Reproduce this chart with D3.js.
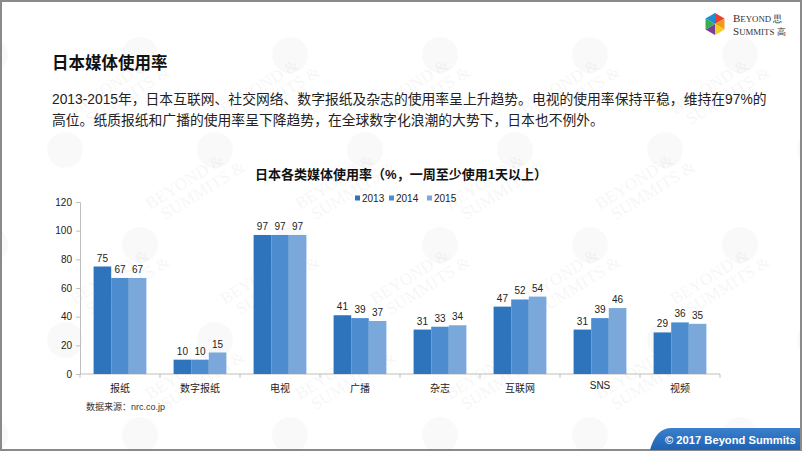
<!DOCTYPE html>
<html>
<head>
<meta charset="utf-8">
<script src="https://cdn.jsdelivr.net/npm/d3@7"></script>
<style>
  html, body { margin: 0; padding: 0; background: #fff; }
  svg { display: block; }
  text { font-family: "Liberation Sans", Arial, "Noto Sans CJK SC", sans-serif; }
</style>
</head>
<body>
<svg id="chart" width="802" height="451"></svg>
<script>
// chart data
const categories = ["报纸", "数字报纸", "电视", "广播", "杂志", "互联网", "SNS", "视频"];
const years = ["2013", "2014", "2015"];
const values2013 = [75, 10, 97, 41, 31, 47, 31, 29];
const values2014 = [67, 10, 97, 39, 33, 52, 39, 36];
const values2015 = [67, 15, 97, 37, 34, 54, 46, 35];
const yTicks = [0, 20, 40, 60, 80, 100, 120];

const pageTitle = "日本媒体使用率";
const paragraph = [
  "2013-2015年，日本互联网、社交网络、数字报纸及杂志的使用率呈上升趋势。电视的使用率保持平稳，维持在97%的",
  "高位。纸质报纸和广播的使用率呈下降趋势，在全球数字化浪潮的大势下，日本也不例外。"
];
const chartTitle = "日本各类媒体使用率（%，一周至少使用1天以上）";
const sourceNote = "数据来源：nrc.co.jp";
const footerText = "© 2017 Beyond Summits";

const seriesColors = ["#2e74bd", "#4d8dcf", "#7aa8da"];

const svg = d3.select("#chart");
const W = 802, H = 451;

// faint watermark in the background (only pieces that sit fully inside the page)
const wm = svg.append("g").attr("class", "watermark");
for (let row = -1; row < 6; row++) {
  for (let col = -1; col < 7; col++) {
    const cx = col * 150 + (row % 2 ? 75 : 0);
    const cy = row * 95 + 20;
    wm.append("circle")
      .attr("cx", cx - 10).attr("cy", cy + 35).attr("r", 18)
      .attr("fill", "#000").attr("opacity", 0.022);
    const t = wm.append("text")
      .attr("transform", `translate(${cx},${cy}) rotate(-32)`)
      .style("font-family", "'Liberation Serif', serif")
      .attr("font-size", 17)
      .attr("fill", "#000")
      .attr("opacity", 0.03);
    t.append("tspan").attr("x", 0).attr("dy", 0).text("BEYOND &");
    t.append("tspan").attr("x", 8).attr("dy", 17).text("SUMMITS &");
  }
}
wm.selectAll("text").each(function () {
  const b = this.getBoundingClientRect();
  if (b.left < 3 || b.top < 3 || b.right > W - 3 || b.bottom > H - 3) this.remove();
});

// page frame
svg.append("rect")
  .attr("x", 1).attr("y", 1).attr("width", W - 2).attr("height", H - 2)
  .attr("fill", "none").attr("stroke", "#8a8a8a").attr("stroke-width", 2);

// logo, top right
const logo = svg.append("g").attr("transform", "translate(715,24)");
const hexColors = ["#e8402e", "#f39a1e", "#f2cf1c", "#7a3f98", "#3aae4a", "#1b8fd6"];
const hexR = 11;
hexColors.forEach((c, i) => {
  const a0 = (-90 + i * 60) * Math.PI / 180;
  const a1 = (-30 + i * 60) * Math.PI / 180;
  logo.append("path")
    .attr("d", `M0,0L${hexR * Math.cos(a0)},${hexR * Math.sin(a0)}L${hexR * Math.cos(a1)},${hexR * Math.sin(a1)}Z`)
    .attr("fill", c);
});
[["BEYOND", "思", 21.5], ["SUMMITS", "高", 35]].forEach(([word, hz, yy]) => {
  const t = svg.append("text").attr("x", 733).attr("y", yy)
    .style("font-family", "'Liberation Serif', serif")
    .attr("fill", "#333");
  t.append("tspan").attr("font-size", 11).text(word[0]);
  t.append("tspan").attr("font-size", 8.8).text(word.slice(1) + " ");
  t.append("tspan").attr("font-size", 8.8).text(hz);
});

// heading + paragraph
svg.append("text")
  .attr("x", 52).attr("y", 69)
  .attr("font-size", 16.5).attr("font-weight", "bold").attr("fill", "#111")
  .text(pageTitle);

paragraph.forEach((line, i) => {
  svg.append("text")
    .attr("x", 52).attr("y", 104 + i * 21)
    .attr("font-size", 13.8).attr("fill", "#222")
    .text(line);
});

// chart title
svg.append("text")
  .attr("x", 401).attr("y", 179).attr("text-anchor", "middle")
  .attr("font-size", 13).attr("font-weight", "bold").attr("fill", "#111")
  .text(chartTitle);

// legend
const legend = svg.append("g").attr("class", "legend");
const legendX = [355, 389, 427];
years.forEach((yr, i) => {
  legend.append("rect")
    .attr("x", legendX[i]).attr("y", 195.5).attr("width", 5).attr("height", 5)
    .attr("fill", seriesColors[i]);
  legend.append("text")
    .attr("x", legendX[i] + 7).attr("y", 202)
    .attr("font-size", 10).attr("fill", "#222")
    .text(yr);
});

// scales
const x0 = d3.scaleBand().domain(categories).range([80, 720]).paddingInner(0.34).paddingOuter(0.17);
const x1 = d3.scaleBand().domain(years).range([0, x0.bandwidth()]);
const y = d3.scaleLinear().domain([0, 120]).range([374, 202]);

const seriesValues = [values2013, values2014, values2015];
const rows = categories.map((c, ci) => ({
  cat: c,
  vals: years.map((yr, yi) => ({ yr, yi, v: seriesValues[yi][ci] }))
}));

// y axis
const yAxis = svg.append("g")
  .attr("transform", "translate(80,0)")
  .call(d3.axisLeft(y).tickValues(yTicks).tickSize(4).tickPadding(4));
yAxis.select(".domain").attr("stroke", "#bfbfbf");
yAxis.selectAll(".tick line").attr("stroke", "#bfbfbf");
yAxis.selectAll(".tick text")
  .attr("font-size", 10).attr("fill", "#222");

// x axis: line with ticks at band boundaries
const xg = svg.append("g").attr("class", "x-axis");
xg.append("line")
  .attr("x1", 80).attr("x2", 720).attr("y1", y(0)).attr("y2", y(0))
  .attr("stroke", "#bfbfbf");
const step = x0.step();
d3.range(categories.length + 1).forEach(i => {
  const xx = 80 + i * step;
  xg.append("line")
    .attr("x1", xx).attr("x2", xx).attr("y1", y(0)).attr("y2", y(0) + 4)
    .attr("stroke", "#bfbfbf");
});
xg.selectAll("text.cat").data(categories).enter().append("text")
  .attr("class", "cat")
  .attr("x", d => x0(d) + x0.bandwidth() / 2)
  .attr("y", d => d === "SNS" ? 389 : 392)
  .attr("text-anchor", "middle")
  .attr("font-size", 10).attr("fill", "#222")
  .text(d => d);

// bars
const groups = svg.append("g").selectAll("g.grp").data(rows).enter().append("g")
  .attr("class", "grp")
  .attr("transform", d => `translate(${x0(d.cat)},0)`);

groups.selectAll("rect").data(d => d.vals).enter().append("rect")
  .attr("x", d => x1(d.yr))
  .attr("y", d => y(d.v))
  .attr("width", x1.bandwidth())
  .attr("height", d => y(0) - y(d.v))
  .attr("fill", d => seriesColors[d.yi]);

groups.selectAll("text").data(d => d.vals).enter().append("text")
  .attr("x", d => x1(d.yr) + x1.bandwidth() / 2)
  .attr("y", d => y(d.v) - 5)
  .attr("text-anchor", "middle")
  .attr("font-size", 10).attr("fill", "#222")
  .text(d => d.v);

// source note
svg.append("text")
  .attr("x", 86).attr("y", 410)
  .attr("font-size", 9).attr("fill", "#333")
  .text(sourceNote);

// footer tab
const grad = svg.append("defs").append("linearGradient")
  .attr("id", "footGrad").attr("x1", 0).attr("y1", 0).attr("x2", 0).attr("y2", 1);
grad.append("stop").attr("offset", "0%").attr("stop-color", "#3a80cc");
grad.append("stop").attr("offset", "100%").attr("stop-color", "#1f62b2");
svg.append("path")
  .attr("d", "M650,450 C654,436 660,428 672,428 L800,428 L800,450 Z")
  .attr("fill", "url(#footGrad)");
svg.append("text")
  .attr("x", 665).attr("y", 444)
  .attr("font-size", 11.2).attr("font-weight", "bold").attr("fill", "#fff")
  .text(footerText);
</script>
</body>
</html>
